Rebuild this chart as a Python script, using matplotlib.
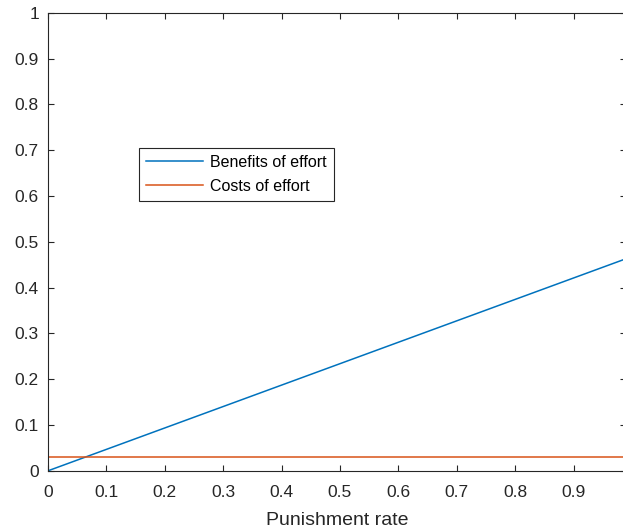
import matplotlib.pyplot as plt

# --- данные ---
punishment_rate = [0.0, 0.99]
benefits = [0.0, 0.463]
costs = [0.03, 0.03]

plt.rcParams['font.family'] = ['Liberation Sans', 'DejaVu Sans']

fig = plt.figure(figsize=(6.23, 5.29), dpi=100)
# правый край осей немного за пределами картинки, как в оригинале
ax = fig.add_axes([0.077, 0.110, 0.928, 0.866])

ax.plot(punishment_rate, benefits, color='#0072BD', lw=1.1, label='Benefits of effort')
ax.plot(punishment_rate, costs, color='#D95319', lw=1.1, label='Costs of effort')

ax.set_xlim(0, 0.99)
ax.set_ylim(0, 1)
ax.set_xticks([0, 0.1, 0.2, 0.3, 0.4, 0.5, 0.6, 0.7, 0.8, 0.9])
ax.set_xticklabels(['0', '0.1', '0.2', '0.3', '0.4', '0.5', '0.6', '0.7', '0.8', '0.9'])
ax.set_yticks([0, 0.1, 0.2, 0.3, 0.4, 0.5, 0.6, 0.7, 0.8, 0.9, 1])
ax.set_yticklabels(['0', '0.1', '0.2', '0.3', '0.4', '0.5', '0.6', '0.7', '0.8', '0.9', '1'])
ax.tick_params(direction='in', top=True, right=True, length=4, width=0.8,
               color='#262626', labelsize=12.5, labelcolor='#262626')
ax.tick_params(axis='x', pad=10)
ax.tick_params(axis='y', pad=6.5)
for s in ax.spines.values():
    s.set_color('#262626')
    s.set_linewidth(0.8)

ax.set_xlabel('Punishment rate', fontsize=14, color='#262626', labelpad=9)

leg = ax.legend(loc='upper left', bbox_to_anchor=(0.157, 0.705), borderaxespad=0,
                fancybox=False, framealpha=1, edgecolor='#262626', fontsize=11.5,
                handlelength=3.6, handletextpad=0.4, borderpad=0.45, labelspacing=0.55)
leg.get_frame().set_linewidth(0.8)

fig.savefig('out.png', dpi=100)
